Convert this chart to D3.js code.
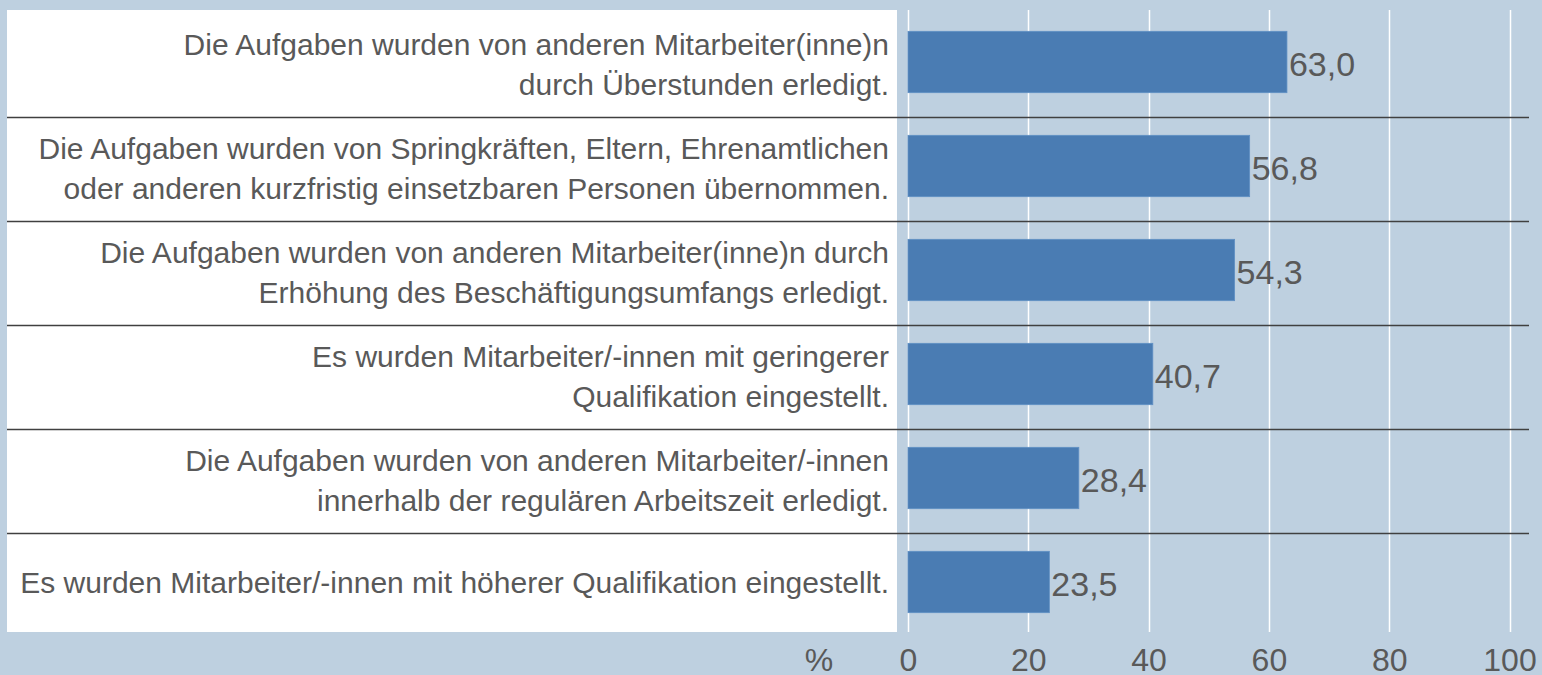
<!DOCTYPE html>
<html>
<head>
<meta charset="utf-8">
<script src="https://cdn.jsdelivr.net/npm/d3@7"></script>
<style>
  html, body { margin: 0; padding: 0; background: #bed0e0; }
  svg { display: block; font-family: "Liberation Sans", Arial, sans-serif; }
</style>
</head>
<body>
<div id="chart"></div>
<script>
const categories = [
  'Die Aufgaben wurden von anderen Mitarbeiter(inne)n|durch Überstunden erledigt.',
  'Die Aufgaben wurden von Springkräften, Eltern, Ehrenamtlichen|oder anderen kurzfristig einsetzbaren Personen übernommen.',
  'Die Aufgaben wurden von anderen Mitarbeiter(inne)n durch|Erhöhung des Beschäftigungsumfangs erledigt.',
  'Es wurden Mitarbeiter/-innen mit geringerer|Qualifikation eingestellt.',
  'Die Aufgaben wurden von anderen Mitarbeiter/-innen|innerhalb der regulären Arbeitszeit erledigt.',
  'Es wurden Mitarbeiter/-innen mit höherer Qualifikation eingestellt.',
];
const values = [63.0, 56.8, 54.3, 40.7, 28.4, 23.5];
const xTicks = [0, 20, 40, 60, 80, 100];
const axisUnit = '%';

const width = 1542, height = 675;
const textColor = '#595959';
const fmt = v => d3.format('.1f')(v).replace('.', ',');

const svg = d3.select('#chart').append('svg')
  .attr('width', width).attr('height', height)
  .attr('viewBox', `0 0 ${width} ${height}`);

svg.append('rect').attr('width', width).attr('height', height).attr('fill', '#bed0e0');

// white panel behind category labels
svg.append('rect')
  .attr('x', 7).attr('y', 10).attr('width', 890).attr('height', 622)
  .attr('fill', '#ffffff');

const x = d3.scaleLinear().domain([0, 100]).range([908, 1509.5]);
const y = d3.scaleBand().domain(categories).range([10, 634])
  .paddingInner(0.41).paddingOuter(0.205);

// vertical gridlines
svg.append('g').selectAll('line.grid')
  .data(xTicks)
  .join('line')
  .attr('class', 'grid')
  .attr('x1', d => Math.round(x(d)) + 0.5).attr('x2', d => Math.round(x(d)) + 0.5)
  .attr('y1', 10).attr('y2', 632)
  .attr('stroke', '#ffffff').attr('stroke-width', 1.5);

// category separators
const seps = categories.slice(1).map(c => y(c) - y.step() * y.paddingInner() / 2 + 3);
svg.append('g').selectAll('line.sep')
  .data(seps)
  .join('line')
  .attr('class', 'sep')
  .attr('x1', 7).attr('x2', 1529)
  .attr('y1', d => Math.round(d) + 0.5).attr('y2', d => Math.round(d) + 0.5)
  .attr('stroke', '#404040').attr('stroke-width', 1.3);

// bars
const rows = categories.map((c, i) => ({ cat: c, value: values[i] }));
svg.append('g').selectAll('rect.bar')
  .data(rows)
  .join('rect')
  .attr('class', 'bar')
  .attr('x', x(0)).attr('y', d => y(d.cat))
  .attr('width', d => x(d.value) - x(0))
  .attr('height', y.bandwidth())
  .attr('fill', '#4a7cb3')
  .attr('stroke', '#6090c4').attr('stroke-width', 0.8);

// value labels
svg.append('g').selectAll('text.val')
  .data(rows)
  .join('text')
  .attr('class', 'val')
  .attr('x', d => x(d.value) + 2)
  .attr('y', d => y(d.cat) + y.bandwidth() / 2 + 13.5)
  .attr('font-size', 34)
  .attr('fill', textColor)
  .text(d => fmt(d.value));

// category labels
const lineH = 39.7;
const labels = svg.append('g').selectAll('text.cat')
  .data(categories)
  .join('text')
  .attr('class', 'cat')
  .attr('text-anchor', 'end')
  .attr('font-size', 30)
  .attr('fill', textColor);
labels.each(function(c) {
  const lines = c.split('|');
  const mid = y(c) + y.bandwidth() / 2;
  const first = mid - (lines.length - 1) * lineH / 2 + (lines.length > 1 ? 12.7 : 10.5);
  d3.select(this).selectAll('tspan')
    .data(lines)
    .join('tspan')
    .attr('x', 889)
    .attr('y', (d, i) => first + i * lineH)
    .text(d => d);
});

// x axis
const xAxisG = svg.append('g').attr('transform', 'translate(0,671)');
xAxisG.call(d3.axisBottom(x).tickValues(xTicks).tickSize(0).tickFormat(d3.format('d')));
xAxisG.select('.domain').remove();
xAxisG.selectAll('text')
  .attr('y', 0).attr('dy', null)
  .attr('font-size', 32)
  .attr('font-family', '"Liberation Sans", Arial, sans-serif')
  .attr('fill', textColor);

svg.append('text')
  .attr('x', 819).attr('y', 671)
  .attr('text-anchor', 'middle')
  .attr('font-size', 32)
  .attr('fill', textColor)
  .text(axisUnit);
</script>
</body>
</html>
